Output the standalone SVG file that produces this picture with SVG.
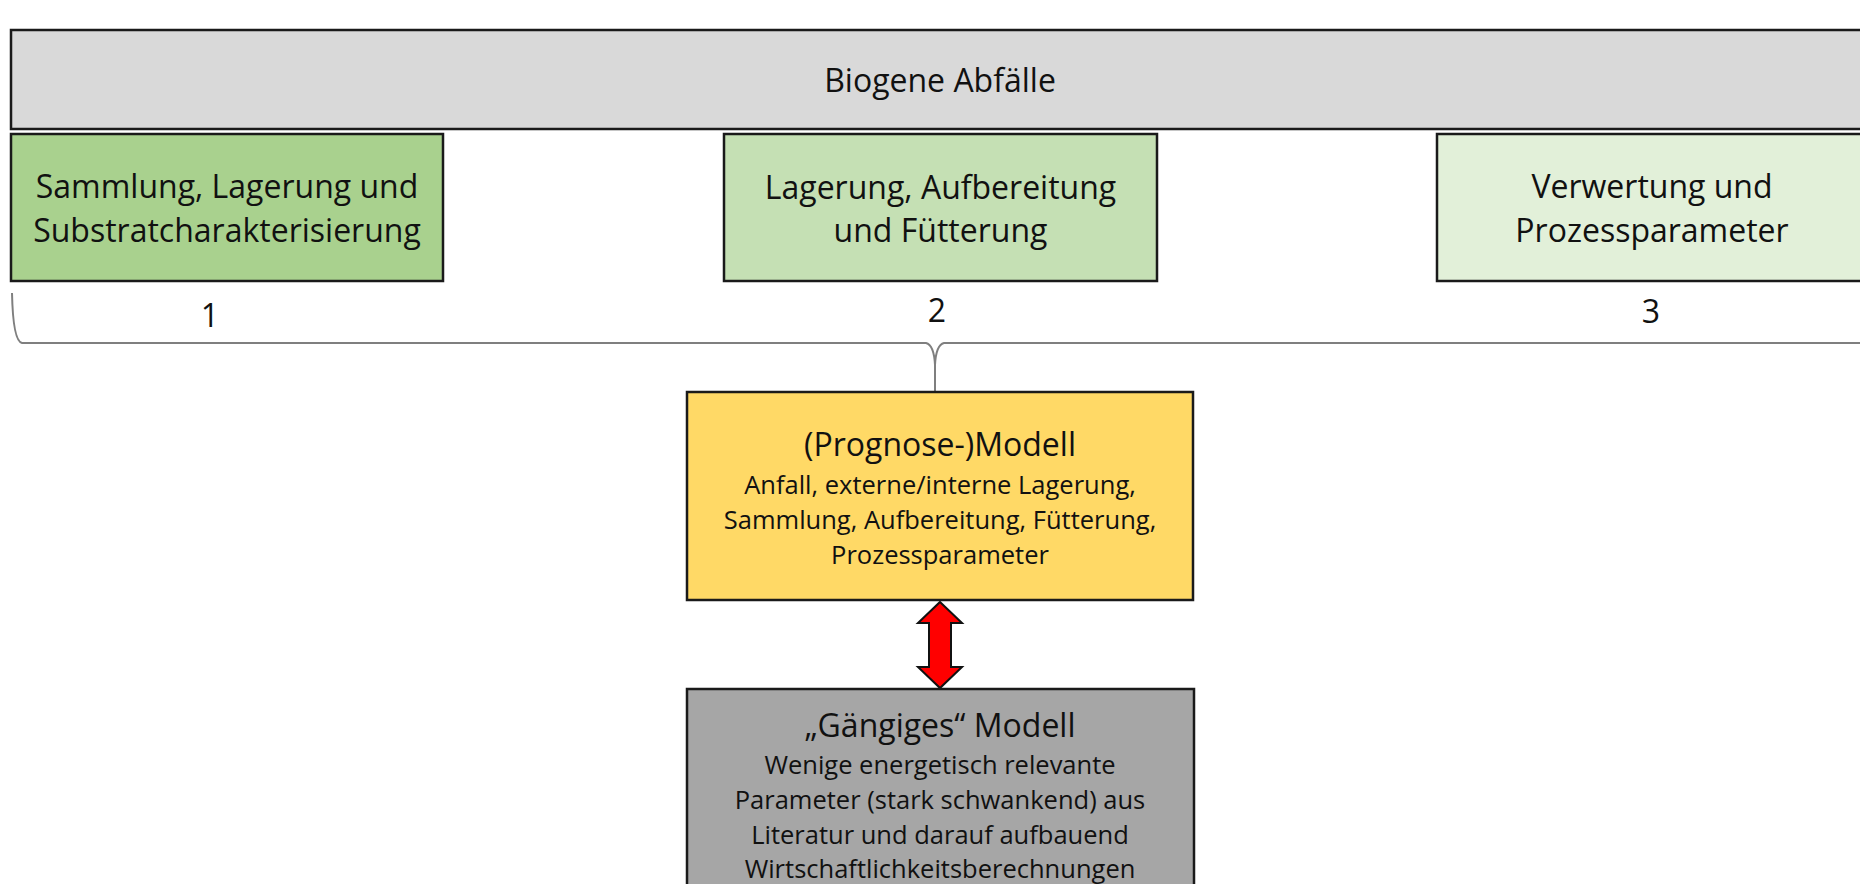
<svg xmlns="http://www.w3.org/2000/svg" width="1860" height="884" viewBox="0 0 1860 884">
<style>
  .box { stroke: #1a1a1a; stroke-width: 2.5; }
  .t { font-family: "Open Sans", "Noto Sans", sans-serif; fill: #111; text-anchor: middle; }
  .big { font-size: 32px; }
  .mid { font-size: 32px; }
  .small { font-size: 25.5px; }
  .brace { fill: none; stroke: #7f7f7f; stroke-width: 2; }
</style>
<rect width="1860" height="884" fill="#ffffff"/>
<g id="biogene">
  <rect class="box" x="11" y="30" width="1870" height="99" fill="#d9d9d9"/>
  <text class="t big" x="940" y="92">Biogene Abfälle</text>
</g>
<g id="box1">
  <rect class="box" x="11" y="134" width="432" height="147" fill="#a9d18e"/>
  <text class="t big" x="227" y="198">Sammlung, Lagerung und</text>
  <text class="t big" x="227" y="242">Substratcharakterisierung</text>
</g>
<g id="box2">
  <rect class="box" x="724" y="134" width="433" height="147" fill="#c5e0b4"/>
  <text class="t big" x="940.5" y="199">Lagerung, Aufbereitung</text>
  <text class="t big" x="940.5" y="242">und Fütterung</text>
</g>
<g id="box3">
  <rect class="box" x="1437" y="134" width="432" height="147" fill="#e2f0d9"/>
  <text class="t big" x="1652" y="198">Verwertung und</text>
  <text class="t big" x="1652" y="242">Prozessparameter</text>
</g>
<g id="labels">
  <text class="t big" x="210" y="327">1</text>
  <text class="t big" x="937" y="322">2</text>
  <text class="t big" x="1651" y="323">3</text>
</g>
<g id="connectors">
  <path class="brace" d="M12,293 Q13,341 22,343 L926,343 Q934,345 935,365 L935,391 M935,365 Q936,345 944,343 L1862,343"/>
  <path d="M940,602 L962,623 L951,623 L951,667 L962,667 L940,688 L918,667 L929,667 L929,623 L918,623 Z" fill="#ff0000" stroke="#111" stroke-width="2" stroke-linejoin="miter"/>
</g>
<g id="prognose">
  <rect class="box" x="687" y="392" width="506" height="208" fill="#ffd966"/>
  <text class="t mid" x="940" y="456">(Prognose-)Modell</text>
  <text class="t small" x="940" y="494">Anfall, externe/interne Lagerung,</text>
  <text class="t small" x="940" y="529">Sammlung, Aufbereitung, Fütterung,</text>
  <text class="t small" x="940" y="564">Prozessparameter</text>
</g>
<g id="gaengig">
  <rect class="box" x="687" y="689" width="507" height="220" fill="#a6a6a6"/>
  <text class="t mid" x="940" y="737">„Gängiges“ Modell</text>
  <text class="t small" x="940" y="774">Wenige energetisch relevante</text>
  <text class="t small" x="940" y="809">Parameter (stark schwankend) aus</text>
  <text class="t small" x="940" y="844">Literatur und darauf aufbauend</text>
  <text class="t small" x="940" y="878">Wirtschaftlichkeitsberechnungen</text>
</g>
</svg>
